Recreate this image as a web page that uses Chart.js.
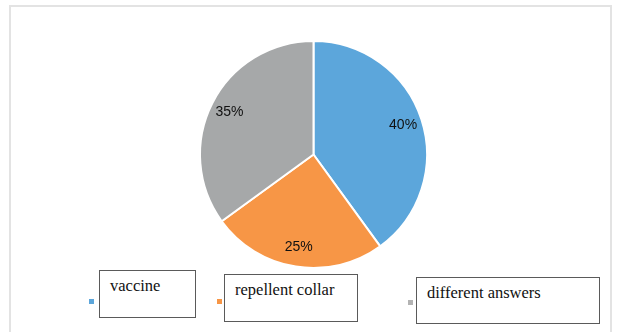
<!DOCTYPE html>
<html>
<head>
<meta charset="utf-8">
<script src="https://cdn.jsdelivr.net/npm/chart.js@4.4.1/dist/chart.umd.min.js"></script>
<style>
  html, body { margin: 0; padding: 0; background: #fff; }
  #wrap { position: relative; width: 619px; height: 332px; overflow: hidden; }
  #frame { position: absolute; left: 9px; top: 5px; width: 603px; height: 340px; border: 2px solid #e3e3e3; box-sizing: border-box; }
  canvas { position: absolute; left: 0; top: 0; }
  .swatch { position: absolute; width: 5px; height: 5px; }
  .lbox { position: absolute; border: 1.5px solid #5a5a5a; box-sizing: border-box; background: #fff;
          font-family: "Liberation Serif", "Times New Roman", serif; font-size: 16.5px; color: #111; }
  .lbox span { position: absolute; left: 10px; top: 5px; white-space: nowrap; }
</style>
</head>
<body>
<div id="wrap">
  <div id="frame"></div>
  <canvas id="pie" width="619" height="332"></canvas>
  <div id="legend"></div>
</div>
<script>
const categories = ["vaccine", "repellent collar", "different answers"];
const shares = [40, 25, 35];
const sliceColors = ["#5CA6DB", "#F79646", "#A6A8A9"];
const swatchColors = ["#5CA6DB", "#F79646", "#B3B3B3"];

// legend boxes sit where the original text boxes were drawn
const legendLayout = [
  { sx: 89, sy: 299, bx: 99, by: 270, bw: 97, bh: 48 },
  { sx: 217, sy: 299, bx: 224, by: 274, bw: 134, bh: 48 },
  { sx: 408, sy: 300, bx: 416, by: 277, bw: 184, bh: 47 }
];

const legend = document.getElementById("legend");
categories.forEach((name, i) => {
  const l = legendLayout[i];
  const sw = document.createElement("div");
  sw.className = "swatch";
  sw.style.left = l.sx + "px";
  sw.style.top = l.sy + "px";
  sw.style.background = swatchColors[i];
  legend.appendChild(sw);

  const box = document.createElement("div");
  box.className = "lbox";
  box.style.left = l.bx + "px";
  box.style.top = l.by + "px";
  box.style.width = l.bw + "px";
  box.style.height = l.bh + "px";
  const t = document.createElement("span");
  t.textContent = name;
  box.appendChild(t);
  legend.appendChild(box);
});

const pctLabels = {
  id: "pctLabels",
  afterDatasetsDraw(chart) {
    const ctx = chart.ctx;
    const meta = chart.getDatasetMeta(0);
    ctx.save();
    ctx.font = "14px 'Liberation Sans', Arial, sans-serif";
    ctx.fillStyle = "#111";
    ctx.textAlign = "center";
    ctx.textBaseline = "middle";
    meta.data.forEach((arc, i) => {
      const p = arc.getProps(["x", "y", "startAngle", "endAngle", "outerRadius"], true);
      const mid = (p.startAngle + p.endAngle) / 2;
      const r = p.outerRadius * 0.83;
      ctx.fillText(shares[i] + "%", p.x + Math.cos(mid) * r, p.y + Math.sin(mid) * r);
    });
    ctx.restore();
  }
};

new Chart(document.getElementById("pie").getContext("2d"), {
  type: "pie",
  data: {
    labels: categories,
    datasets: [{
      data: shares,
      backgroundColor: sliceColors,
      borderColor: "#ffffff",
      borderWidth: 2,
      hoverOffset: 0
    }]
  },
  options: {
    responsive: false,
    animation: false,
    layout: { padding: { top: 40, bottom: 63, left: 199, right: 191 } },
    plugins: {
      legend: { display: false },
      tooltip: { enabled: false }
    }
  },
  plugins: [pctLabels]
});
</script>
</body>
</html>
